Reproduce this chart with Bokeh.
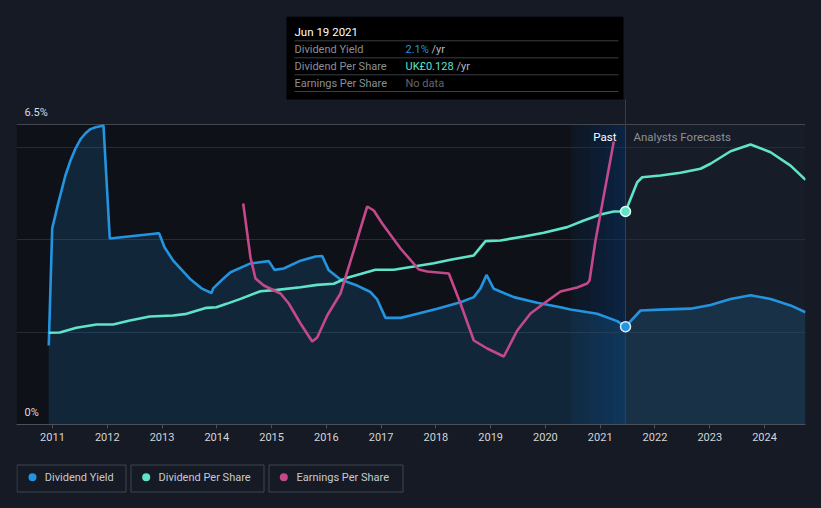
from bokeh.plotting import figure
from bokeh.models import Range1d, FixedTicker, Span
from bokeh.layouts import column
from bokeh.embed import file_html
from bokeh.resources import INLINE
from bokeh.core.properties import value

# ---------------- data ----------------
year_ticks = [2011, 2012, 2013, 2014, 2015, 2016, 2017, 2018, 2019, 2020, 2021, 2022, 2023, 2024]
year_labels = [str(y) for y in year_ticks]

yield_x = [2010.932, 2010.995, 2011.104, 2011.237, 2011.329, 2011.42, 2011.511, 2011.603, 2011.694,
           2011.785, 2011.876, 2011.931, 2012.046, 2012.899, 2012.948, 2013.045, 2013.204, 2013.507,
           2013.72, 2013.903, 2013.934, 2014.117, 2014.25, 2014.615, 2014.949, 2015.053, 2015.223,
           2015.528, 2015.802, 2015.924, 2016.045, 2016.258, 2016.563, 2016.806, 2016.928, 2017.08,
           2017.354, 2017.536, 2018.024, 2018.449, 2018.692, 2018.814, 2018.924, 2019.057, 2019.422,
           2019.85, 2020.275, 2020.458, 2020.945, 2021.31, 2021.462, 2021.736, 2022.101, 2022.649,
           2023.014, 2023.38, 2023.745, 2024.11, 2024.475, 2024.749]
yield_pct = [1.71, 4.25, 4.79, 5.40, 5.72, 5.98, 6.18, 6.31, 6.40,
             6.44, 6.46, 6.48, 4.03, 4.14, 4.14, 3.84, 3.55, 3.16,
             2.95, 2.85, 2.95, 3.16, 3.30, 3.49, 3.54, 3.35, 3.38,
             3.55, 3.64, 3.65, 3.34, 3.14, 3.01, 2.87, 2.71, 2.31,
             2.31, 2.36, 2.51, 2.65, 2.76, 2.95, 3.24, 2.94, 2.76,
             2.64, 2.54, 2.49, 2.40, 2.24, 2.12, 2.47, 2.49, 2.51,
             2.59, 2.72, 2.80, 2.72, 2.58, 2.43]

dps_x = [2010.932, 2011.133, 2011.438, 2011.803, 2012.108, 2012.411, 2012.777, 2013.204, 2013.447,
         2013.812, 2013.994, 2014.177, 2014.433, 2014.798, 2015.103, 2015.528, 2015.833, 2016.136,
         2016.381, 2016.624, 2016.897, 2017.232, 2017.597, 2017.962, 2018.267, 2018.692, 2018.906,
         2019.18, 2019.605, 2019.97, 2020.398, 2020.701, 2021.005, 2021.248, 2021.462, 2021.676,
         2021.767, 2022.101, 2022.466, 2022.831, 2023.014, 2023.38, 2023.745, 2024.11, 2024.475, 2024.749]
dps_gbp = [0.0551, 0.0553, 0.0581, 0.0601, 0.0601, 0.0625, 0.0649, 0.0655, 0.0665,
           0.0701, 0.0705, 0.0725, 0.0755, 0.0801, 0.0809, 0.0825, 0.0839, 0.0846,
           0.0882, 0.0904, 0.0930, 0.0930, 0.0949, 0.0969, 0.0990, 0.1016, 0.1102,
           0.1106, 0.1130, 0.1152, 0.1186, 0.1226, 0.1262, 0.1280, 0.1280, 0.1456,
           0.1486, 0.1496, 0.1513, 0.1537, 0.1567, 0.1642, 0.1683, 0.1636, 0.1556, 0.1470]

eps_x = [2014.482, 2014.615, 2014.706, 2014.858, 2015.163, 2015.314, 2015.528, 2015.742, 2015.833,
         2016.016, 2016.258, 2016.501, 2016.746, 2016.866, 2017.02, 2017.354, 2017.688, 2017.841,
         2018.236, 2018.449, 2018.692, 2018.937, 2019.24, 2019.485, 2019.727, 2019.97, 2020.275,
         2020.58, 2020.763, 2020.805, 2020.914, 2021.248]
eps_gbp = [0.221, 0.167, 0.146, 0.139, 0.131, 0.121, 0.101, 0.083, 0.087,
           0.109, 0.131, 0.174, 0.218, 0.214, 0.201, 0.176, 0.155, 0.153,
           0.151, 0.121, 0.084, 0.076, 0.068, 0.094, 0.111, 0.121, 0.133,
           0.137, 0.141, 0.144, 0.184, 0.283]

y_tick_vals = [0, 6.5]
y_tick_labels = ["0%", "6.5%"]
grid_vals = [2, 4, 6]

hover_date = 2021.462
hover_title = "Jun 19 2021"
hover_yield_val = 2.12
hover_dps_val = 0.128
hover_rows = ["Dividend Yield", "Dividend Per Share", "Earnings Per Share"]
hover_values = ["2.1%", "UK£0.128", "No data"]
hover_units = ["/yr", "/yr"]

legend_labels = ["Dividend Yield", "Dividend Per Share", "Earnings Per Share"]

# ---------------- style ----------------
BG = "#151a24"
PAST_BG = "#0e1117"
FC_BG = "#171d28"
BLUE = "#2394df"
TEAL = "#5fe3c9"
MAG = "#c4488b"
FONT = "Roboto"

X0, X1 = 2010.343, 2024.748
Y1 = 8.84
DPS_TOP = 408 / 1664.1
EPS_TOP = 0.408


def dx(px):
    return X0 + (px - 16) * (X1 - X0) / (805 - 16)


def dy(py):
    return (424 - py) * Y1 / 408.0


p = figure(width=821, height=452, output_backend="svg", toolbar_location=None,
           x_range=Range1d(X0, X1), y_range=Range1d(0, Y1), y_axis_location=None,
           min_border_left=16, min_border_right=16, min_border_top=16, min_border_bottom=28)
p.background_fill_color = BG
p.border_fill_color = BG
p.outline_line_color = None
p.extra_y_ranges = {"dps": Range1d(0, DPS_TOP), "eps": Range1d(0, EPS_TOP)}

# grid
p.xgrid.visible = False
p.ygrid.ticker = FixedTicker(ticks=grid_vals)
p.ygrid.grid_line_color = "#262c36"
p.ygrid.grid_line_width = 1

# x axis
ax = p.xaxis[0]
ax.ticker = FixedTicker(ticks=year_ticks)
ax.major_label_overrides = {t: l for t, l in zip(year_ticks, year_labels)}
ax.axis_line_color = "#4b5159"
ax.major_tick_line_color = "#4b5159"
ax.major_tick_in = 0
ax.major_tick_out = 4
ax.minor_tick_line_color = None
ax.major_label_standoff = 4
ax.major_label_text_color = "#d2d5da"
ax.major_label_text_font = FONT
ax.major_label_text_font_size = "11px"

# backgrounds
top_line = 6.5
p.quad(left=[X0], right=[hover_date - 1.0], bottom=[0], top=[top_line],
       fill_color=PAST_BG, line_color=None, level="image")
p.quad(left=[hover_date], right=[X1], bottom=[0], top=[top_line],
       fill_color=FC_BG, line_color=None, level="image")
n = 14
c0 = (14, 22, 34)
c1 = (11, 36, 68)
for i in range(n):
    t = (i + 0.5) / n
    col = "#%02x%02x%02x" % tuple(int(round(a + (b - a) * t)) for a, b in zip(c0, c1))
    p.quad(left=[hover_date - 1.0 + i / n], right=[hover_date - 1.0 + (i + 1) / n + 0.002],
           bottom=[0], top=[top_line], fill_color=col, line_color=None, level="image")

p.add_layout(Span(location=top_line, dimension="width", line_color="#41464f", line_width=1, level="underlay"))

# y labels
p.text(x=[dx(24)] * 2, y=y_tick_vals, text=y_tick_labels, text_baseline="bottom",
       text_font=value(FONT), text_font_size="11px", text_color="#d8dbe0", y_offset=-6)

# yield area + line
p.varea(x=yield_x, y1=[0] * len(yield_x), y2=yield_pct, fill_color=BLUE, fill_alpha=0.17)
p.line(yield_x, yield_pct, line_color=BLUE, line_width=2.6)

# dps
p.line(dps_x, dps_gbp, line_color=TEAL, line_width=2.6, y_range_name="dps")
# eps
p.line(eps_x, eps_gbp, line_color=MAG, line_width=2.6, y_range_name="eps")

# hover line
p.segment(x0=[hover_date], x1=[hover_date], y0=[0], y1=[dy(99)], line_color="#24446a", line_width=1)

# markers
p.scatter([hover_date], [hover_yield_val], size=10, fill_color=BLUE, line_color="#d6ecfb", line_width=1.5)
p.scatter([hover_date], [hover_dps_val], size=10, fill_color=TEAL, line_color="#e0fff8", line_width=1.5,
          y_range_name="dps")

# past / forecast labels
p.text(x=[dx(616)], y=[dy(136)], text=["Past"], text_align="right", text_baseline="middle",
       text_font=value(FONT), text_font_size="11.5px", text_color="#ffffff")
p.text(x=[dx(633)], y=[dy(136)], text=["Analysts Forecasts"], text_align="left", text_baseline="middle",
       text_font=value(FONT), text_font_size="11.5px", text_color="#8c9199")

# tooltip
p.quad(left=[dx(286)], right=[dx(623)], top=[dy(16)], bottom=[dy(99)], fill_color="#000000", line_color=None)
p.text(x=[dx(294)], y=[dy(31.5)], text=[hover_title], text_baseline="middle",
       text_font=value(FONT), text_font_size="11.5px", text_color="#ffffff")
sep_y = [40.3, 57.3, 74.3, 91]
p.segment(x0=[dx(294)] * 4, x1=[dx(618)] * 4, y0=[dy(v) for v in sep_y], y1=[dy(v) for v in sep_y],
          line_color="#3a3f47", line_width=1)
row_y = [48.5, 65.5, 82.5]
p.text(x=[dx(294)] * 3, y=[dy(v) for v in row_y], text=hover_rows, text_baseline="middle",
       text_font=value(FONT), text_font_size="11px", text_color="#8a8f97")
val_colors = [BLUE, TEAL, "#62676f"]
p.text(x=[dx(405)] * 3, y=[dy(v) for v in row_y], text=hover_values, text_baseline="middle",
       text_font=value(FONT), text_font_size="11px", text_color=val_colors)
p.text(x=[dx(431), dx(456)], y=[dy(row_y[0]), dy(row_y[1])], text=hover_units, text_baseline="middle",
       text_font=value(FONT), text_font_size="11px", text_color="#b5b9bf")

# ---------------- legend figure (frame aligned with the chart: page x 16..805) ----------------
p2 = figure(width=821, height=56, output_backend="svg", toolbar_location=None,
            x_range=Range1d(16, 805), y_range=Range1d(56, 0), x_axis_location=None, y_axis_location=None,
            min_border_left=16, min_border_right=16, min_border_top=0, min_border_bottom=0, title=None)
p2.background_fill_color = BG
p2.border_fill_color = BG
p2.outline_line_color = None
p2.grid.visible = False

box_l = [16.5, 130.5, 268.5]
box_r = [125.5, 263.5, 402.5]
dot_x = [32.0, 145.7, 283.3]
txt_x = [44.3, 158.0, 296.0]
leg_colors = [BLUE, TEAL, MAG]
p2.quad(left=box_l, right=box_r, top=[12.5] * 3, bottom=[39.5] * 3, fill_color=None,
        line_color="#40464f", line_width=1)
p2.scatter(dot_x, [24.7] * 3, size=8, fill_color=leg_colors, line_color=None)
p2.text(x=txt_x, y=[25.0] * 3, text=legend_labels, text_baseline="middle", text_font=value(FONT),
        text_font_size="11px", text_color="#c6cad0")

layout = column(p, p2, spacing=0)

html = file_html(layout, INLINE)
html = html.replace("<head>", "<head><style>body{background:%s;}</style>" % BG, 1)
open("out.html", "w").write(html)
